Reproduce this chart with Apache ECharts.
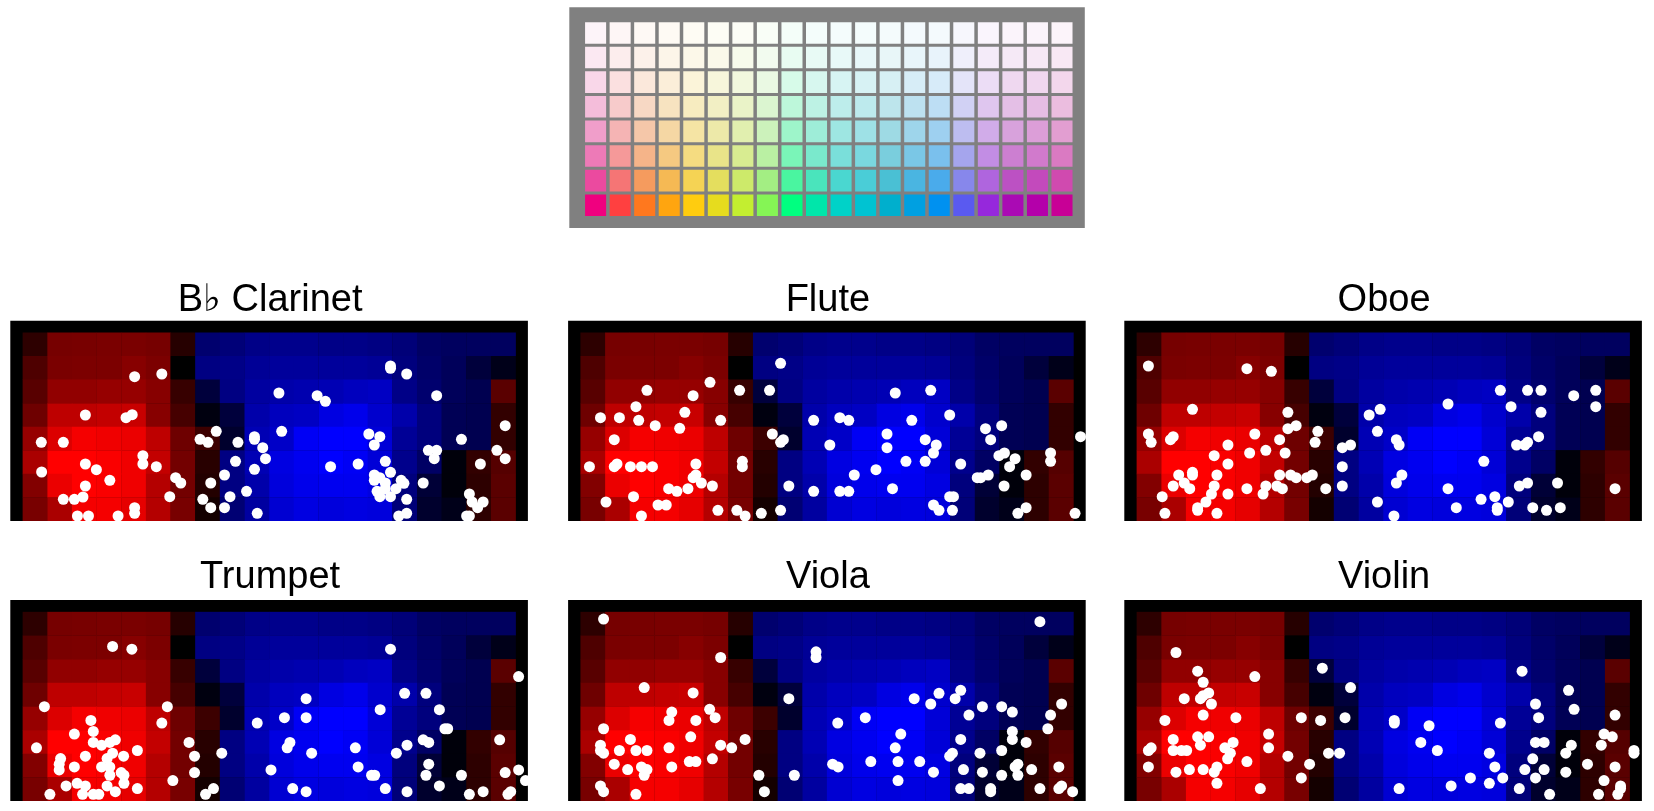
<!DOCTYPE html>
<html><head><meta charset="utf-8">
<style>html,body{margin:0;padding:0;background:#fff}#c{width:1654px;height:811px}</style>
<script src="https://cdn.jsdelivr.net/npm/echarts@6/dist/echarts.min.js"></script>
</head><body><div id="c"></div>
<script>
// palette
const paletteHues = ['#f0007f','#ff4040','#ff781e','#ffa50f','#ffcc0f','#e6dc1e','#c3ee30','#85f555','#00ff80','#00e6aa','#00d2c8','#00c3d2','#00afcd','#00a0e1','#0091f0','#5a5af0','#9628dc','#aa0ab4','#b400aa','#c80096'];
const paletteTints = [0, 0.33, 0.52, 0.66, 0.77, 0.86, 0.92, 0.96]; // bottom row to top row
const paletteGreys = [255, 225, 235, 240, 245, 250, 252, 254];

// shared time/frequency map, top row first; + red, - blue
const heatRows = [
 [45,118,120,122,122,118,38,-110,-120,-135,-140,-140,-135,-135,-130,-120,-100,-95,-95,-95],
 [78,122,124,124,135,124,0,-130,-135,-150,-155,-155,-155,-155,-150,-125,-105,-90,-60,-25],
 [88,145,145,150,150,135,55,-60,-130,-160,-170,-175,-180,-190,-195,-135,-110,-90,-80,90],
 [110,190,190,195,200,135,70,-15,-60,-170,-190,-195,-225,-235,-205,-170,-125,-85,-80,50],
 [150,220,245,240,235,190,110,60,-45,-180,-200,-245,-255,-255,-215,-150,-125,-85,-80,50],
 [170,255,255,250,240,195,115,40,-130,-180,-225,-240,-255,-245,-215,-140,-100,-10,50,85],
 [130,235,255,250,240,180,115,35,-130,-170,-220,-235,-240,-240,-225,-125,-55,-10,45,90],
 [120,170,245,245,230,180,120,20,-115,-160,-210,-225,-220,-225,-220,-120,-45,-25,45,90]
];

// dots: [time, frequency] in the units of the reading
const clarinet = [[361,433],[440,441],[218,318],[336,310],[354,319],[90,236],[154,236],[91,147],[218,171],[250,154],[289,122],[385,196],[385,171],[424,163],[218,105],[154,65],[186,65],[211,72],[195,15],[227,15],[313,15],[361,40],[361,23],[463,73],[480,130],[495,114],[598,269],[551,245],[574,236],[582,114],[559,65],[582,40],[622,138],[622,40],[638,73],[654,179],[661,236],[686,89],[709,155],[709,253],[709,245],[733,220],[741,187],[717,23],[780,384],[788,269],[891,376],[915,359],[930,163],[1010,171],[1104,465],[1104,458],[1151,441],[1238,376],[1041,261],[1073,253],[1057,228],[1089,179],[1104,146],[1057,138],[1057,122],[1073,130],[1089,114],[1089,97],[1120,97],[1135,122],[1143,113],[1065,89],[1073,73],[1104,73],[1151,65],[1151,23],[1128,15],[1199,114],[1214,212],[1238,212],[1231,187],[1310,245],[1365,171],[1413,212],[1437,286],[1437,187],[1333,81],[1341,57],[1373,57],[1357,40],[1325,15],[1333,15]];
const flute = [[617,473],[412,416],[229,392],[363,376],[498,392],[585,392],[197,343],[339,326],[94,310],[149,310],[205,302],[253,286],[324,278],[443,302],[134,244],[62,163],[134,163],[142,171],[181,163],[213,163],[245,163],[371,171],[371,138],[363,130],[387,114],[419,105],[348,97],[316,89],[292,97],[190,73],[110,57],[261,48],[285,48],[213,15],[435,32],[490,32],[514,15],[506,179],[506,163],[593,261],[617,236],[625,244],[561,23],[617,32],[641,105],[713,89],[713,302],[760,228],[789,310],[815,302],[789,89],[815,89],[831,138],[894,154],[926,261],[926,220],[950,384],[998,302],[1053,392],[1108,318],[1037,244],[1069,228],[1061,204],[1037,179],[981,179],[942,97],[1140,171],[1061,48],[1077,32],[1108,73],[1119,73],[1116,32],[1188,130],[1198,130],[1220,138],[1212,277],[1259,286],[1227,244],[1251,196],[1267,204],[1298,187],[1282,163],[1330,138],[1266,105],[1306,23],[1330,40],[1401,204],[1401,179],[1488,253],[1472,23]];
const oboe = [[70,465],[356,457],[427,449],[198,335],[475,326],[499,286],[475,277],[70,261],[78,236],[134,244],[142,253],[379,261],[451,244],[562,269],[554,236],[301,228],[411,212],[364,204],[467,204],[261,196],[301,171],[633,220],[657,228],[158,138],[198,146],[198,138],[269,138],[451,138],[483,138],[499,130],[530,130],[546,138],[174,114],[142,105],[190,97],[261,105],[253,81],[301,81],[356,97],[411,105],[403,81],[443,105],[459,97],[110,73],[237,57],[213,40],[213,32],[118,23],[269,23],[585,97],[633,163],[633,105],[711,318],[743,335],[735,269],[790,244],[798,228],[806,138],[790,114],[735,57],[783,15],[940,351],[940,97],[964,40],[1044,179],[1036,65],[1076,73],[1083,40],[1083,32],[1115,57],[1092,392],[1123,343],[1171,392],[1210,392],[1210,326],[1305,376],[1369,392],[1369,343],[1203,253],[1171,236],[1163,228],[1139,228],[1147,105],[1171,114],[1258,114],[1186,40],[1226,32],[1266,40],[1425,97]];
const trumpet = [[297,462],[353,454],[1104,454],[1476,372],[99,282],[456,282],[440,233],[234,241],[241,208],[186,200],[76,159],[241,175],[265,167],[289,175],[305,183],[369,151],[297,143],[281,127],[329,134],[218,134],[146,127],[142,110],[142,93],[186,102],[265,102],[289,102],[289,77],[322,85],[330,77],[330,53],[194,53],[162,45],[218,45],[281,45],[305,28],[369,37],[115,20],[210,20],[241,20],[257,20],[472,61],[519,175],[535,134],[535,85],[614,143],[590,37],[567,20],[717,233],[796,249],[859,306],[859,249],[812,175],[804,159],[875,143],[757,93],[820,37],[859,28],[1002,159],[1010,102],[1049,77],[1058,77],[1074,273],[1089,37],[1121,143],[1152,167],[1152,28],[1145,322],[1207,322],[1246,273],[1262,216],[1270,216],[1199,183],[1215,175],[1215,110],[1207,77],[1246,45],[1310,77],[1333,20],[1373,28],[1421,183],[1437,85],[1445,20],[1453,28],[1476,93],[1496,61]];
const viola = [[103,544],[443,429],[720,446],[720,429],[1370,536],[221,339],[363,323],[641,306],[301,266],[293,241],[371,241],[411,274],[427,249],[103,216],[356,192],[514,184],[443,167],[475,159],[181,184],[94,167],[94,151],[103,143],[149,151],[197,151],[229,151],[293,159],[352,118],[371,118],[419,126],[134,110],[173,94],[213,102],[229,94],[221,77],[301,102],[94,45],[103,28],[197,20],[554,77],[570,28],[657,77],[783,233],[863,249],[768,110],[784,102],[879,118],[966,200],[950,159],[958,118],[958,61],[1021,118],[1061,86],[1005,306],[1053,290],[1077,322],[1124,306],[1140,331],[1164,257],[1203,282],[1259,282],[1290,266],[1140,184],[1116,143],[1108,134],[1196,143],[1259,151],[1290,208],[1290,184],[1330,175],[1393,216],[1401,257],[1433,290],[1148,94],[1203,86],[1259,77],[1306,110],[1298,102],[1306,77],[1346,94],[1425,102],[1140,37],[1164,37],[1227,37],[1227,28],[1370,37],[1425,37],[1433,45],[1465,28]];
const violin = [[150,444],[213,388],[379,372],[229,355],[245,323],[221,306],[229,315],[174,306],[253,290],[229,257],[118,241],[324,249],[514,249],[570,241],[575,397],[657,339],[641,249],[419,200],[419,159],[213,192],[245,192],[142,184],[221,167],[316,175],[292,159],[142,151],[166,151],[181,151],[78,159],[70,151],[308,143],[300,126],[356,118],[70,102],[150,86],[189,94],[229,94],[269,102],[261,86],[269,53],[395,37],[475,134],[538,110],[514,69],[593,143],[625,143],[784,241],[784,233],[885,225],[861,175],[909,151],[798,37],[949,45],[1005,69],[1060,143],[1076,102],[1060,53],[1099,69],[1092,233],[1155,388],[1194,290],[1203,249],[1194,175],[1219,175],[1186,126],[1163,94],[1219,94],[1194,69],[1147,37],[1235,20],[1290,331],[1306,274],[1298,167],[1282,143],[1282,86],[1345,110],[1385,167],[1393,200],[1417,192],[1425,257],[1425,102],[1393,61],[1441,45],[1441,37],[1377,20],[1433,20],[1480,151],[1480,143]];

const names = ['B\u266D Clarinet','Flute','Oboe','Trumpet','Viola','Violin'];
const dotSets = [clarinet, flute, oboe, trumpet, viola, violin];
const readUnitX = 71.57, readUnitY = 70.7;

const panelX = [10.3, 568.1, 1124.3], panelW = 517.6;
const panelY = [320.7, 600], panelH = [200.3, 201];

const mix = (hex, t, g) => {
  const n = parseInt(hex.slice(1), 16);
  const c = [n >> 16, (n >> 8) & 255, n & 255].map(v => Math.round(v + (g - v) * t));
  return 'rgb(' + c.join(',') + ')';
};

const heatData = [];
heatRows.forEach((row, r) => row.forEach((v, c) => heatData.push([c, 7 - r, v])));
const paletteData = [];
paletteTints.forEach((_, r) => paletteHues.forEach((_, c) => paletteData.push([c, r])));

const grids = [], xAxes = [], yAxes = [], series = [], titles = [], heatSeries = [];
const hidden = {show:false};
function addAxes(xmax, ymax){
  xAxes.push({type:'value', min:0, max:xmax, gridIndex:grids.length-1, ...hidden});
  yAxes.push({type:'value', min:0, max:ymax, gridIndex:grids.length-1, ...hidden});
}

// palette panel
grids.push({left:569.3, top:7.3, width:515.5, height:220.7, show:true, backgroundColor:'#808080', borderWidth:0});
addAxes(21, 8.97);
series.push({
  type:'custom', xAxisIndex:0, yAxisIndex:0, silent:true, clip:true, data:paletteData,
  encode:{x:0, y:1},
  renderItem(p, api){
    const c = api.value(0), r = api.value(1);
    const a = api.coord([c + 0.5, r + 1.5]), b = api.coord([c + 1.5, r + 0.5]);
    return {type:'rect', shape:{x:a[0]+3.5, y:a[1]+3.3, width:b[0]-a[0]-3.5, height:b[1]-a[1]-3},
      style:{fill:mix(paletteHues[c], paletteTints[r], paletteGreys[r])}};
  }
});

dotSets.forEach((pts, i) => {
  const col = i % 3, row = i < 3 ? 0 : 1, idx = grids.length;
  grids.push({left:panelX[col], top:panelY[row], width:panelW, height:panelH[row], show:true, backgroundColor:'#000', borderWidth:0});
  addAxes(21, 8.5);
  heatSeries.push(series.length);
  series.push({
    type:'custom', xAxisIndex:idx, yAxisIndex:idx, silent:true, clip:true, data:heatData,
    encode:{x:0, y:1},
    renderItem(p, api){
      const c = api.value(0), r = api.value(1);
      const a = api.coord([c + 0.5, r + 1]), b = api.coord([c + 1.5, r]);
      return {type:'rect', shape:{x:a[0], y:a[1], width:b[0]-a[0]+0.3, height:b[1]-a[1]+0.3},
        style:{fill:api.visual('color')}};
    }
  });
  series.push({
    type:'scatter', xAxisIndex:idx, yAxisIndex:idx, silent:true, clip:true, symbolSize:11,
    itemStyle:{color:'#fff', opacity:1},
    data:pts.map(d => [d[0]/readUnitX, d[1]/readUnitY])
  });
  titles.push({text:names[i], left:panelX[col]+panelW/2-4, top:row===0?276.5:554, textAlign:'center',
    textStyle:{fontFamily:'"Liberation Sans", Arial, sans-serif', fontWeight:'normal', fontSize:38, color:'#000'}});
});

const chart = echarts.init(document.getElementById('c'), null, {renderer:'canvas', width:1654, height:811});
chart.setOption({
  animation:false, backgroundColor:'#fff',
  title:titles, grid:grids, xAxis:xAxes, yAxis:yAxes, series,
  tooltip:{show:false},
  visualMap:{show:false, type:'continuous', min:-255, max:255, dimension:2, seriesIndex:heatSeries,
    inRange:{color:['#0000ff','#000000','#ff0000']}}
});
</script></body></html>
